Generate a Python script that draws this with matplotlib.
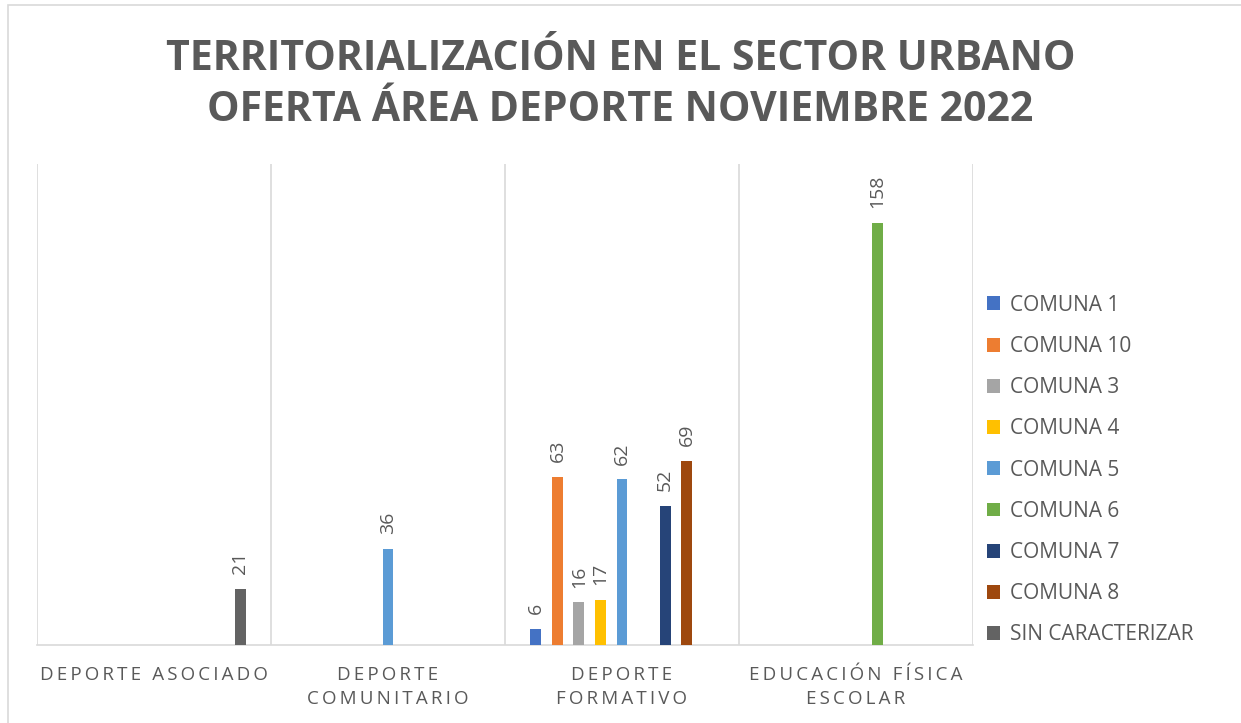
import matplotlib.pyplot as plt
from matplotlib.patches import Rectangle
import numpy as np

# data
categories = ['DEPORTE ASOCIADO', 'DEPORTE\nCOMUNITARIO', 'DEPORTE\nFORMATIVO',
              'EDUCACIÓN FÍSICA\nESCOLAR']
series_names = ['COMUNA 1', 'COMUNA 10', 'COMUNA 3', 'COMUNA 4', 'COMUNA 5',
                'COMUNA 6', 'COMUNA 7', 'COMUNA 8', 'SIN CARACTERIZAR']
comuna_1 = [0, 0, 6, 0]
comuna_10 = [0, 0, 63, 0]
comuna_3 = [0, 0, 16, 0]
comuna_4 = [0, 0, 17, 0]
comuna_5 = [0, 36, 62, 0]
comuna_6 = [0, 0, 0, 158]
comuna_7 = [0, 0, 52, 0]
comuna_8 = [0, 0, 69, 0]
sin_caracterizar = [21, 0, 0, 0]
values = [comuna_1, comuna_10, comuna_3, comuna_4, comuna_5, comuna_6,
          comuna_7, comuna_8, sin_caracterizar]

colors = ['#4472C4', '#ED7D31', '#A5A5A5', '#FFC000', '#5B9BD5', '#70AD47',
          '#264478', '#9E480E', '#636363']
text_gray = '#595959'
grid_gray = '#D9D9D9'


def spaced(s, sep='\u200a'):
    # crude letter spacing, like the Excel axis style
    return '\n'.join(sep.join(line) for line in s.split('\n'))


fig = plt.figure(figsize=(12.41, 7.23), dpi=100)
fig.patches.append(Rectangle((8 / 1241, -0.01), 1.2, 1.0 - 5 / 723 + 0.01,
                             transform=fig.transFigure, fill=False,
                             edgecolor=grid_gray, linewidth=1.2))

ax = fig.add_axes([37 / 1241, 78 / 723, (973 - 37) / 1241, (645 - 164) / 723])

x = np.arange(len(categories))
slot = 0.092
width = 0.047
n = len(series_names)
for i, (name, vals, col) in enumerate(zip(series_names, values, colors)):
    pos = x + (i - (n - 1) / 2) * slot
    ax.bar(pos, vals, width=width, color=col, label=name, zorder=3)
    for p, v in zip(pos, vals):
        if v:
            ax.text(p, v + 5.5, str(v), rotation=90, ha='center', va='bottom',
                    fontsize=14, color=text_gray, family='Open Sans')

ax.set_xlim(-0.5, len(categories) - 0.5)
ax.set_ylim(0, 180)
for b in np.arange(-0.5, len(categories) + 0.5, 1.0):
    ax.axvline(b, color=grid_gray, linewidth=1.2, zorder=1)
for s in ['top', 'right', 'left']:
    ax.spines[s].set_visible(False)
ax.spines['bottom'].set_color(grid_gray)
ax.spines['bottom'].set_linewidth(1.2)
ax.set_yticks([])
ax.set_xticks(x)
ax.set_xticklabels([spaced(c, '\u2009') for c in categories], fontsize=13.5,
                   color=text_gray, family='Open Sans', linespacing=1.45)
ax.tick_params(axis='x', length=0, pad=15)

fig.text(0.5, 1 - 85 / 723,
         'TERRITORIALIZACIÓN EN EL SECTOR URBANO\nOFERTA ÁREA DEPORTE NOVIEMBRE 2022',
         ha='center', va='center', fontsize=29.5, fontweight='bold',
         color=text_gray, family='Open Sans', linespacing=1.33)

leg = fig.legend(loc='upper left', bbox_to_anchor=(968 / 1241, 1 - 276 / 723),
                 frameon=False, prop={'family': 'Open Sans', 'size': 15},
                 handlelength=0.65, handleheight=0.65, handletextpad=0.45,
                 labelspacing=0.97)
for t in leg.get_texts():
    t.set_color(text_gray)

fig.savefig('out.png', dpi=100, facecolor='white')
